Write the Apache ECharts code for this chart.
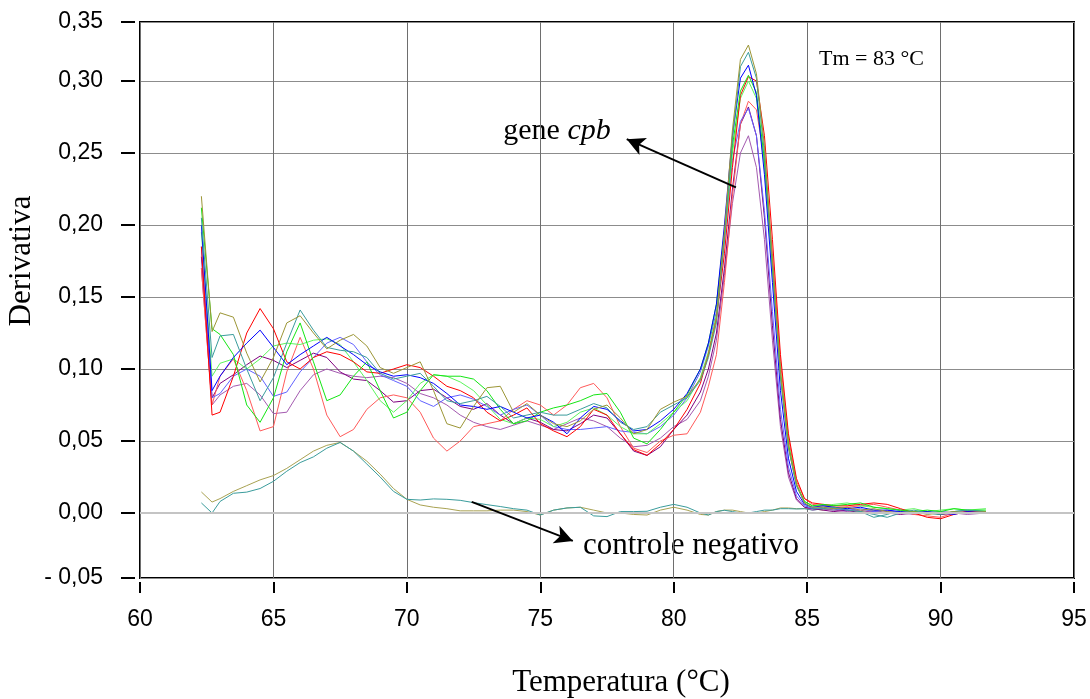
<!DOCTYPE html>
<html>
<head>
<meta charset="utf-8">
<style>
html,body{margin:0;padding:0;background:#fff;}
#chart{width:1090px;height:699px;}
</style>
<script src="https://cdn.jsdelivr.net/npm/echarts@6/dist/echarts.min.js"></script>
</head>
<body>
<div id="chart"></div>
<script>
// Temperature (°C) sample positions shared by all curves
const temps = [62.3, 62.7, 63.0, 63.5, 64.0, 64.5, 65.0, 65.5, 66.0, 66.5, 67.0, 67.5, 68.0, 68.5, 69.0, 69.5, 70.0, 70.5, 71.0, 71.5, 72.0, 72.5, 73.0, 73.5, 74.0, 74.5, 75.0, 75.5, 76.0, 76.5, 77.0, 77.5, 78.0, 78.5, 79.0, 79.5, 80.0, 80.5, 81.0,
  81.3, 81.6, 81.9, 82.2, 82.5, 82.8, 83.1, 83.4, 83.7, 84.0, 84.3, 84.6, 84.9,
  85.2, 85.6, 86.0, 86.5, 87.0, 87.5, 88.0, 88.5, 89.0, 89.5, 90.0, 90.5, 91.0, 91.7];

// gene cpb samples (derivative values)
const cpbOlive = [0.220, 0.126, 0.139, 0.136, 0.111, 0.091, 0.108, 0.132, 0.137, 0.125, 0.114, 0.120, 0.124, 0.116, 0.101, 0.097, 0.101, 0.105, 0.085, 0.062, 0.059, 0.074, 0.087, 0.088, 0.070, 0.076, 0.068, 0.062, 0.060, 0.064, 0.072, 0.075, 0.066, 0.055, 0.058, 0.072, 0.077, 0.081, 0.093,
  0.110, 0.135, 0.195, 0.266, 0.315, 0.325, 0.305, 0.255, 0.175, 0.097, 0.046, 0.020, 0.007,
  0.004, 0.004, 0.003, 0.004, 0.002, 0.003, 0.001, 0.000, 0.001, -0.001, 0.000, 0.001, 0.000, 0.001];
const cpbTeal = [0.205, 0.108, 0.123, 0.124, 0.100, 0.078, 0.094, 0.118, 0.141, 0.127, 0.115, 0.113, 0.112, 0.108, 0.097, 0.093, 0.095, 0.097, 0.088, 0.078, 0.076, 0.078, 0.081, 0.074, 0.066, 0.068, 0.070, 0.068, 0.068, 0.072, 0.076, 0.073, 0.063, 0.058, 0.060, 0.070, 0.075, 0.080, 0.092,
  0.108, 0.132, 0.190, 0.260, 0.310, 0.320, 0.302, 0.250, 0.172, 0.095, 0.045, 0.019, 0.007,
  0.003, 0.003, 0.004, 0.002, 0.001, -0.001, -0.003, 0.000, 0.002, 0.000, -0.001, 0.001, 0.002, 0.001];
const cpbBlue = [0.200, 0.085, 0.095, 0.108, 0.118, 0.127, 0.115, 0.103, 0.110, 0.116, 0.122, 0.116, 0.110, 0.103, 0.098, 0.095, 0.096, 0.094, 0.090, 0.083, 0.075, 0.074, 0.072, 0.074, 0.070, 0.066, 0.068, 0.063, 0.055, 0.066, 0.074, 0.072, 0.064, 0.057, 0.058, 0.064, 0.072, 0.083, 0.100,
  0.118, 0.145, 0.200, 0.262, 0.302, 0.311, 0.290, 0.235, 0.160, 0.085, 0.038, 0.015, 0.006,
  0.004, 0.005, 0.004, 0.003, 0.004, 0.002, 0.002, 0.001, 0.000, 0.001, 0.000, -0.001, 0.001, 0.000];
const cpbLightBlue = [0.185, 0.080, 0.083, 0.095, 0.100, 0.095, 0.081, 0.084, 0.098, 0.108, 0.118, 0.122, 0.117, 0.105, 0.096, 0.092, 0.088, 0.078, 0.074, 0.080, 0.082, 0.079, 0.074, 0.068, 0.072, 0.075, 0.068, 0.060, 0.058, 0.058, 0.059, 0.060, 0.057, 0.056, 0.055, 0.060, 0.068, 0.080, 0.098,
  0.116, 0.140, 0.190, 0.245, 0.272, 0.281, 0.262, 0.210, 0.140, 0.072, 0.032, 0.012, 0.005,
  0.003, 0.004, 0.003, 0.002, 0.003, 0.001, 0.002, 0.000, 0.001, 0.000, 0.001, 0.000, 0.000, 0.001];
const cpbGreen = [0.212, 0.128, 0.124, 0.110, 0.075, 0.063, 0.080, 0.112, 0.132, 0.105, 0.078, 0.082, 0.095, 0.105, 0.085, 0.066, 0.070, 0.085, 0.096, 0.095, 0.095, 0.093, 0.085, 0.072, 0.062, 0.064, 0.070, 0.073, 0.075, 0.078, 0.082, 0.083, 0.070, 0.052, 0.048, 0.058, 0.070, 0.082, 0.100,
  0.118, 0.145, 0.195, 0.255, 0.293, 0.304, 0.292, 0.245, 0.172, 0.098, 0.048, 0.020, 0.008,
  0.005, 0.006, 0.005, 0.006, 0.007, 0.004, 0.003, 0.002, 0.001, 0.002, 0.001, 0.003, 0.002, 0.002];
const cpbLightGreen = [0.195, 0.095, 0.104, 0.107, 0.100, 0.107, 0.116, 0.118, 0.117, 0.120, 0.121, 0.117, 0.105, 0.092, 0.078, 0.070, 0.078, 0.090, 0.096, 0.095, 0.091, 0.085, 0.075, 0.065, 0.062, 0.066, 0.065, 0.060, 0.063, 0.070, 0.073, 0.068, 0.060, 0.055, 0.055, 0.062, 0.070, 0.078, 0.094,
  0.112, 0.138, 0.190, 0.250, 0.288, 0.300, 0.288, 0.240, 0.168, 0.095, 0.046, 0.019, 0.008,
  0.005, 0.005, 0.006, 0.007, 0.005, 0.004, 0.003, 0.002, 0.003, 0.001, 0.002, 0.003, 0.002, 0.003];
const cpbRed = [0.185, 0.068, 0.070, 0.095, 0.125, 0.142, 0.128, 0.105, 0.100, 0.108, 0.112, 0.110, 0.105, 0.098, 0.097, 0.100, 0.103, 0.101, 0.095, 0.088, 0.085, 0.080, 0.070, 0.064, 0.068, 0.073, 0.062, 0.057, 0.053, 0.060, 0.072, 0.068, 0.055, 0.044, 0.040, 0.048, 0.058, 0.072, 0.090,
  0.110, 0.135, 0.180, 0.240, 0.290, 0.303, 0.300, 0.262, 0.190, 0.110, 0.055, 0.024, 0.010,
  0.007, 0.006, 0.005, 0.005, 0.006, 0.007, 0.006, 0.003, 0.000, -0.003, -0.004, -0.001, 0.001, 0.000];
const cpbLightRed = [0.170, 0.075, 0.095, 0.107, 0.085, 0.057, 0.060, 0.098, 0.122, 0.100, 0.068, 0.053, 0.058, 0.072, 0.080, 0.082, 0.080, 0.070, 0.052, 0.043, 0.050, 0.060, 0.062, 0.064, 0.072, 0.078, 0.075, 0.068, 0.075, 0.087, 0.090, 0.080, 0.060, 0.045, 0.042, 0.050, 0.054, 0.055, 0.070,
  0.088, 0.110, 0.160, 0.220, 0.270, 0.286, 0.280, 0.245, 0.180, 0.105, 0.052, 0.022, 0.010,
  0.006, 0.005, 0.004, 0.004, 0.005, 0.006, 0.004, 0.002, -0.001, -0.002, -0.003, 0.000, 0.001, 0.001];
const cpbPurple = [0.178, 0.080, 0.090, 0.096, 0.103, 0.109, 0.106, 0.101, 0.106, 0.111, 0.108, 0.098, 0.093, 0.092, 0.085, 0.077, 0.078, 0.085, 0.086, 0.080, 0.074, 0.072, 0.076, 0.068, 0.062, 0.066, 0.063, 0.058, 0.057, 0.062, 0.068, 0.066, 0.055, 0.043, 0.040, 0.046, 0.058, 0.068, 0.084,
  0.100, 0.125, 0.170, 0.225, 0.270, 0.282, 0.262, 0.205, 0.130, 0.065, 0.028, 0.010, 0.004,
  0.003, 0.002, 0.001, 0.002, 0.000, 0.001, 0.000, -0.001, 0.000, 0.001, -0.001, 0.000, 0.001, 0.000];
const cpbLightPurple = [0.170, 0.075, 0.082, 0.088, 0.090, 0.082, 0.069, 0.070, 0.085, 0.096, 0.100, 0.097, 0.095, 0.094, 0.095, 0.094, 0.090, 0.083, 0.080, 0.075, 0.068, 0.063, 0.060, 0.058, 0.061, 0.064, 0.061, 0.058, 0.062, 0.066, 0.064, 0.060, 0.052, 0.046, 0.047, 0.052, 0.060, 0.065, 0.078,
  0.095, 0.120, 0.165, 0.215, 0.250, 0.262, 0.240, 0.190, 0.120, 0.060, 0.025, 0.009, 0.004,
  0.002, 0.003, 0.002, 0.001, 0.002, 0.000, 0.001, 0.000, -0.001, 0.000, 0.001, 0.000, -0.001, 0.000];

// negative controls
const ctrlOlive = [0.0146, 0.0076, 0.010, 0.0150, 0.019, 0.023, 0.026, 0.031, 0.037, 0.043, 0.047, 0.049, 0.043, 0.036, 0.027, 0.017, 0.0095, 0.0056, 0.004, 0.003, 0.0015, 0.0015, 0.0015, 0.002, 0.002, 0.001, -0.0014, 0.002, 0.0035, 0.004, 0.002, 0.000, 0.000, -0.001, -0.0014, 0.002, 0.004, 0.002, -0.001,
  -0.0014, 0.001, 0.002, 0.002, 0.001, 0.000, 0.000, 0.001, 0.002, 0.0035, 0.0035, 0.003, 0.003,
  0.003, 0.002, 0.003, 0.002, 0.001, 0.002, 0.000, 0.001, 0.000, 0.001, -0.001, 0.000, 0.001, 0.000];
const ctrlTeal = [0.007, 0.000, 0.008, 0.0137, 0.0145, 0.017, 0.022, 0.029, 0.035, 0.039, 0.045, 0.049, 0.043, 0.034, 0.025, 0.015, 0.0095, 0.009, 0.0098, 0.0095, 0.0088, 0.0072, 0.0058, 0.0045, 0.003, 0.002, -0.0014, 0.002, 0.0035, 0.004, -0.002, -0.0025, 0.001, 0.001, 0.0012, 0.004, 0.006, 0.004, 0.000,
  -0.0014, 0.001, 0.0019, 0.001, 0.000, 0.000, 0.001, 0.002, 0.002, 0.003, 0.003, 0.0028, 0.003,
  0.002, 0.003, 0.002, 0.004, 0.001, -0.003, -0.001, 0.002, 0.001, 0.000, -0.001, 0.001, 0.002, 0.001];

// annotation arrows: [tail, head] in data coordinates
const arrowGene = [[82.33, 0.2262], [78.24, 0.2596]];
const arrowCtrl = [[72.43, 0.0077], [76.22, -0.0194]];

const yMin = -0.04514, yMax = 0.3410;

const pairs = ys => temps.map((t, i) => [t, ys[i]]);

const curves = [
  {name: 'ctrl-olive', data: ctrlOlive, color: '#a9a252'},
  {name: 'ctrl-teal', data: ctrlTeal, color: '#3a9c9c'},
  {name: 'lightpurple', data: cpbLightPurple, color: '#a45ab0'},
  {name: 'purple', data: cpbPurple, color: '#800080'},
  {name: 'lightred', data: cpbLightRed, color: '#ff5a5a'},
  {name: 'lightblue', data: cpbLightBlue, color: '#6262ff'},
  {name: 'lightgreen', data: cpbLightGreen, color: '#5cf55c'},
  {name: 'red', data: cpbRed, color: '#ff0000'},
  {name: 'green', data: cpbGreen, color: '#14e614'},
  {name: 'blue', data: cpbBlue, color: '#0000ff'},
  {name: 'teal', data: cpbTeal, color: '#3a9c9c'},
  {name: 'olive', data: cpbOlive, color: '#9c9636'}
];

const series = curves.map((c, idx) => {
  const s = {
    name: c.name, type: 'line', data: pairs(c.data), symbol: 'none', showSymbol: false,
    lineStyle: {width: 1, color: c.color}, itemStyle: {color: c.color},
    animation: false, silent: true, z: 3
  };
  if (idx === 0) {
    s.markLine = {
      silent: true, symbol: ['none', 'none'], label: {show: false}, animation: false,
      lineStyle: {color: '#c4c4c4', width: 2, type: 'solid'},
      data: [{yAxis: 0}]
    };
  }
  if (idx === curves.length - 1) {
    s.markLine = {
      silent: true, symbol: ['none', 'arrow'], symbolSize: [14, 18], label: {show: false}, animation: false,
      lineStyle: {color: '#000', width: 2, type: 'solid'}, itemStyle: {color: '#000'},
      data: [
        [{coord: arrowGene[0]}, {coord: arrowGene[1]}],
        [{coord: arrowCtrl[0]}, {coord: arrowCtrl[1]}]
      ]
    };
  }
  return s;
});

const fmtY = v => {
  if (v < -0.04) return '- 0,05';
  if (v > 0.33) return '0,35';
  return v.toFixed(2).replace('.', ',');
};

const serif = "'Liberation Serif', 'Times New Roman', serif";
const sans = "'Liberation Sans', Arial, Helvetica, sans-serif";

const option = {
  animation: false,
  backgroundColor: '#fff',
  grid: {left: 140, right: 16, top: 22, bottom: 121, show: true, borderColor: '#000', borderWidth: 2, backgroundColor: 'transparent'},
  xAxis: [
    {type: 'value', min: 60, max: 95, interval: 5, position: 'bottom',
     axisLine: {show: false, onZero: false}, axisTick: {show: false}, axisLabel: {show: false},
     splitLine: {show: true, lineStyle: {color: '#6e6e6e', width: 1}}},
    {type: 'value', min: 60, max: 95, interval: 5, position: 'bottom', offset: 4,
     axisLine: {show: false, onZero: false}, axisTick: {show: true, length: 11, lineStyle: {color: '#000', width: 2}},
     axisLabel: {margin: 26, fontSize: 23, color: '#000', fontFamily: sans},
     splitLine: {show: false}}
  ],
  yAxis: [
    {type: 'value', min: yMin, max: yMax, splitNumber: 8, minInterval: 0.05, maxInterval: 0.05, position: 'left',
     axisLine: {show: false, onZero: false}, axisTick: {show: false}, axisLabel: {show: false},
     splitLine: {show: true, lineStyle: {color: '#8c8c8c', width: 1}}},
    {type: 'value', min: yMin, max: yMax, splitNumber: 8, minInterval: 0.05, maxInterval: 0.05, position: 'left', offset: 5,
     axisLine: {show: false, onZero: false}, axisTick: {show: true, length: 14, lineStyle: {color: '#000', width: 2}},
     axisLabel: {margin: 32, fontSize: 23, color: '#000', fontFamily: sans, formatter: fmtY, showMinLabel: true, showMaxLabel: true},
     splitLine: {show: false}}
  ],
  series: series,
  graphic: [
    {type: 'text', x: 22, y: 261, rotation: Math.PI / 2, silent: true,
     style: {text: 'Derivativa', fontSize: 31, fontFamily: serif, fill: '#000', textAlign: 'center', textVerticalAlign: 'middle', verticalAlign: 'middle'}},
    {type: 'text', x: 621, y: 683, silent: true,
     style: {text: 'Temperatura (°C)', fontSize: 31, fontFamily: serif, fill: '#000', textAlign: 'center', textVerticalAlign: 'middle', verticalAlign: 'middle'}},
    {type: 'text', x: 819, y: 59, silent: true,
     style: {text: 'Tm = 83 °C', fontSize: 22, fontFamily: serif, fill: '#000', textAlign: 'left', textVerticalAlign: 'middle', verticalAlign: 'middle'}},
    {type: 'text', x: 557, y: 131, silent: true,
     style: {text: 'gene {i|cpb}', fontSize: 30, fontFamily: serif, fill: '#000', textAlign: 'center', textVerticalAlign: 'middle', verticalAlign: 'middle',
       rich: {i: {fontStyle: 'italic', fontSize: 30, fontFamily: serif, fill: '#000'}}}},
    {type: 'text', x: 691, y: 546, silent: true,
     style: {text: 'controle negativo', fontSize: 31, fontFamily: serif, fill: '#000', textAlign: 'center', textVerticalAlign: 'middle', verticalAlign: 'middle'}}
  ]
};

const chart = echarts.init(document.getElementById('chart'), null, {renderer: 'canvas'});
chart.setOption(option);
</script>
</body>
</html>
